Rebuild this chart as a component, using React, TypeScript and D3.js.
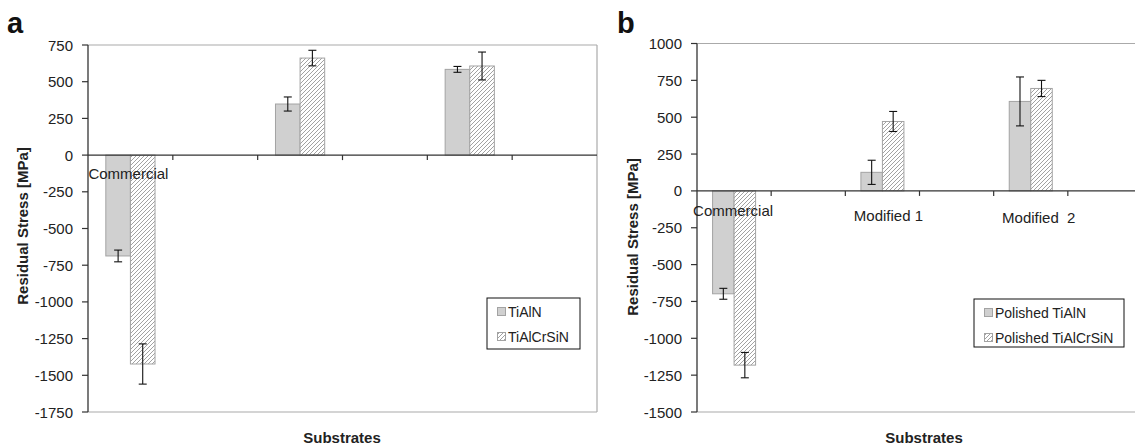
import React from "react";
import * as d3 from "d3";

// ---------- data ----------
const categoriesA = ["Commercial", "", "", "", "", ""];
const categoriesB = ["Commercial", "", "Modified 1", "", "Modified  2", ""];

const tialnA: (number | null)[] = [-687, null, 348, null, 584, null];
const tialnAErr: (number | null)[] = [40, null, 48, null, 20, null];
const tialcrsinA: (number | null)[] = [-1423, null, 661, null, 607, null];
const tialcrsinAErr: (number | null)[] = [137, null, 53, null, 95, null];

const tialnB: (number | null)[] = [-698, null, 126, null, 607, null];
const tialnBErr: (number | null)[] = [37, null, 82, null, 166, null];
const tialcrsinB: (number | null)[] = [-1182, null, 471, null, 695, null];
const tialcrsinBErr: (number | null)[] = [86, null, 68, null, 55, null];

const ticksA = [750, 500, 250, 0, -250, -500, -750, -1000, -1250, -1500, -1750];
const ticksB = [1000, 750, 500, 250, 0, -250, -500, -750, -1000, -1250, -1500];

const legendA = ["TiAlN", "TiAlCrSiN"];
const legendB = ["Polished TiAlN", "Polished TiAlCrSiN"];

const FONT = "'Liberation Sans', Arial, Helvetica, sans-serif";
const SOLID = "#d0d0d0";
const EDGE = "#a3a3a3";

type PanelProps = {
  letter: string;
  letterX: number;
  x0: number;
  x1: number;
  yTop: number;
  yBottom: number;
  domain: [number, number];
  ticks: number[];
  cats: string[];
  s1: (number | null)[];
  e1: (number | null)[];
  s2: (number | null)[];
  e2: (number | null)[];
  legend: string[];
  legendBox: { x: number; y: number; w: number; h: number };
  yLabelX: number;
  yLabelY: number;
  xLabelX: number;
  catDx: number[];
  catDy: number[];
  rightBorder: boolean;
};

function Panel(p: PanelProps) {
  const x = d3
    .scaleBand<number>()
    .domain(d3.range(p.cats.length))
    .range([p.x0, p.x1])
    .padding(0);
  const y = d3.scaleLinear().domain(p.domain).range([p.yBottom, p.yTop]);
  const bw = x.bandwidth() * 0.29;
  const y0 = y(0);

  const bars: React.ReactNode[] = [];
  const errs: React.ReactNode[] = [];
  p.cats.forEach((_, i) => {
    const c = (x(i) as number) + x.bandwidth() / 2;
    [
      { v: p.s1[i], e: p.e1[i], bx: c - bw, fill: SOLID },
      { v: p.s2[i], e: p.e2[i], bx: c, fill: "url(#hatch)" },
    ].forEach((b, k) => {
      if (b.v == null) return;
      const yv = y(b.v);
      bars.push(
        <rect
          key={`b${i}-${k}`}
          x={b.bx}
          y={Math.min(yv, y0)}
          width={bw}
          height={Math.abs(yv - y0)}
          fill={b.fill}
          stroke={EDGE}
          strokeWidth={1}
        />
      );
      if (b.e != null) {
        const cx = b.bx + bw / 2;
        const ya = y(b.v + b.e);
        const yb = y(b.v - b.e);
        errs.push(
          <g key={`e${i}-${k}`} stroke="#111" strokeWidth={1.1}>
            <line x1={cx} x2={cx} y1={ya} y2={yb} />
            <line x1={cx - 4} x2={cx + 4} y1={ya} y2={ya} />
            <line x1={cx - 4} x2={cx + 4} y1={yb} y2={yb} />
          </g>
        );
      }
    });
  });

  return (
    <g fontFamily={FONT}>
      <text x={p.letterX} y={33} fontSize={29} fontWeight="bold" fill="#111">
        {p.letter}
      </text>
      {/* plot frame */}
      <line x1={p.x0} x2={p.x1} y1={p.yTop} y2={p.yTop} stroke="#aaa" strokeWidth={1.2} />
      <line x1={p.x0} x2={p.x1} y1={p.yBottom} y2={p.yBottom} stroke="#aaa" strokeWidth={1.2} />
      {p.rightBorder && (
        <line x1={p.x1} x2={p.x1} y1={p.yTop} y2={p.yBottom} stroke="#aaa" strokeWidth={1.2} />
      )}
      {bars}
      {/* zero axis */}
      <line x1={p.x0} x2={p.x1} y1={y0} y2={y0} stroke="#333" strokeWidth={1.3} />
      {d3.range(1, p.cats.length).map((i) => (
        <line
          key={`xt${i}`}
          x1={x(i) as number}
          x2={x(i) as number}
          y1={y0}
          y2={y0 + 5}
          stroke="#333"
          strokeWidth={1.2}
        />
      ))}
      {/* y axis */}
      <line x1={p.x0} x2={p.x0} y1={p.yTop} y2={p.yBottom} stroke="#333" strokeWidth={1.3} />
      {p.ticks.map((t) => (
        <g key={`yt${t}`}>
          <line x1={p.x0 - 6} x2={p.x0} y1={y(t)} y2={y(t)} stroke="#333" strokeWidth={1.2} />
          <text
            x={p.x0 - 15}
            y={y(t) + 5.5}
            textAnchor="end"
            fontSize={15}
            fill="#222"
          >
            {t}
          </text>
        </g>
      ))}
      {errs}
      {/* category labels */}
      {p.cats.map((c, i) =>
        c ? (
          <text
            key={`cl${i}`}
            x={(x(i) as number) + x.bandwidth() / 2 + p.catDx[i]}
            y={y0 + p.catDy[i]}
            textAnchor="middle"
            fontSize={15}
            fill="#222"
            style={{ whiteSpace: "pre" }}
          >
            {c}
          </text>
        ) : null
      )}
      {/* axis titles */}
      <text
        transform={`translate(${p.yLabelX},${p.yLabelY}) rotate(-90)`}
        textAnchor="middle"
        fontSize={15}
        fontWeight="bold"
        fill="#222"
      >
        Residual Stress [MPa]
      </text>
      <text x={p.xLabelX} y={443} textAnchor="middle" fontSize={15} fontWeight="bold" fill="#222">
        Substrates
      </text>
      {/* legend */}
      <rect
        x={p.legendBox.x}
        y={p.legendBox.y}
        width={p.legendBox.w}
        height={p.legendBox.h}
        fill="#fff"
        stroke="#111"
        strokeWidth={1}
      />
      {p.legend.map((l, i) => {
        const cy = p.legendBox.y + 14 + i * 25;
        return (
          <g key={`lg${i}`}>
            <rect
              x={p.legendBox.x + 10.5}
              y={cy - 4.5}
              width={8}
              height={8}
              fill={i === 0 ? SOLID : "url(#hatch)"}
              stroke={EDGE}
              strokeWidth={1}
            />
            <text x={p.legendBox.x + 21} y={cy + 5} fontSize={14} fill="#222">
              {l}
            </text>
          </g>
        );
      })}
    </g>
  );
}

export default function App() {
  return (
    <svg
      width={1135}
      height={445}
      style={{ position: "absolute", left: 0, top: 0, background: "#fff" }}
    >
      <defs>
        <pattern id="hatch" patternUnits="userSpaceOnUse" width={4} height={4}>
          <rect width={4} height={4} fill="#fff" />
          <path d="M-1,1 l2,-2 M0,4 l4,-4 M3,5 l2,-2" stroke="#8a8a8a" strokeWidth={0.8} />
        </pattern>
      </defs>
      <rect width={1135} height={445} fill="#fff" />
      <Panel
        letter="a"
        letterX={7}
        x0={88}
        x1={597}
        yTop={45}
        yBottom={412}
        domain={[-1750, 750]}
        ticks={ticksA}
        cats={categoriesA}
        s1={tialnA}
        e1={tialnAErr}
        s2={tialcrsinA}
        e2={tialcrsinAErr}
        legend={legendA}
        legendBox={{ x: 487, y: 298, w: 93, h: 51 }}
        yLabelX={28}
        yLabelY={226}
        xLabelX={342}
        catDx={[-2, 0, 0, 0, 0, 0]}
        catDy={[24, 0, 0, 0, 0, 0]}
        rightBorder={true}
      />
      <Panel
        letter="b"
        letterX={617}
        x0={697}
        x1={1142}
        yTop={43.5}
        yBottom={412}
        domain={[-1500, 1000]}
        ticks={ticksB}
        cats={categoriesB}
        s1={tialnB}
        e1={tialnBErr}
        s2={tialcrsinB}
        e2={tialcrsinBErr}
        legend={legendB}
        legendBox={{ x: 974, y: 299, w: 150, h: 48 }}
        yLabelX={638}
        yLabelY={237}
        xLabelX={924}
        catDx={[-1, 0, 6, 0, 8, 0]}
        catDy={[25, 0, 30, 0, 32, 0]}
        rightBorder={false}
      />
    </svg>
  );
}
